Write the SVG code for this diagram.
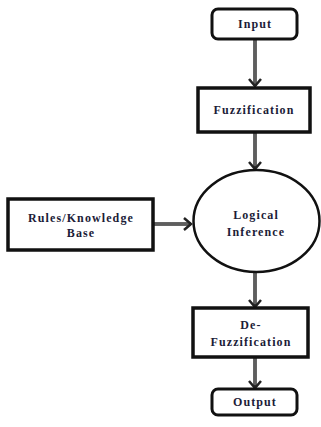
<svg xmlns="http://www.w3.org/2000/svg" width="321" height="427" viewBox="0 0 321 427">
<style>
.box{fill:#fff;stroke:#111;stroke-width:3.5}
.rbox{fill:#fff;stroke:#111;stroke-width:3}
.ell{fill:#fff;stroke:#111;stroke-width:2.5}
.t{font-family:"Liberation Serif","Times New Roman",serif;font-weight:bold;font-size:12px;letter-spacing:1.1px;fill:#1c1c38;text-anchor:middle}
.sh{stroke:#333;stroke-width:3.5;fill:none}
.shi{stroke:#8a8a8a;stroke-width:1;fill:none}
.hd{stroke:#222;stroke-width:2.5;fill:none;stroke-linejoin:miter}
</style>
<g id="connectors">
<line class="sh" x1="255" y1="39" x2="255" y2="86"/><line class="shi" x1="255" y1="40" x2="255" y2="84"/>
<polyline class="hd" points="249,79 255,86 261,79"/>
<line class="sh" x1="255" y1="132" x2="255" y2="168"/><line class="shi" x1="255" y1="133" x2="255" y2="166"/>
<polyline class="hd" points="249,162 255,169 261,162"/>
<line class="sh" x1="153" y1="224" x2="191" y2="224"/><line class="shi" x1="154" y1="224" x2="189" y2="224"/>
<polyline class="hd" points="184,218 191,224 184,230"/>
<line class="sh" x1="255" y1="272" x2="255" y2="306"/><line class="shi" x1="255" y1="273" x2="255" y2="304"/>
<polyline class="hd" points="249,300 255,307 261,300"/>
<line class="sh" x1="255" y1="357" x2="255" y2="387"/><line class="shi" x1="255" y1="358" x2="255" y2="385"/>
<polyline class="hd" points="249,381 255,388 261,381"/>
</g>
<g id="input"><rect class="rbox" x="212" y="9" width="85" height="30" rx="6"/><text class="t" x="255" y="28">Input</text></g>
<g id="fuzzification"><rect class="box" x="198" y="88" width="112" height="44"/><text class="t" x="254" y="114">Fuzzification</text></g>
<g id="logical-inference"><ellipse class="ell" cx="256.5" cy="221" rx="63" ry="51"/><text class="t" x="256" y="219">Logical</text><text class="t" x="256" y="236">Inference</text></g>
<g id="rules"><rect class="box" x="8" y="199" width="145" height="51"/><text class="t" x="81" y="222">Rules/Knowledge</text><text class="t" x="81" y="237">Base</text></g>
<g id="defuzzification"><rect class="box" x="193" y="308" width="115" height="49"/><text class="t" x="251" y="329">De-</text><text class="t" x="251" y="346">Fuzzification</text></g>
<g id="output"><rect class="rbox" x="212" y="389" width="85" height="26" rx="6"/><text class="t" x="255" y="406">Output</text></g>
</svg>
